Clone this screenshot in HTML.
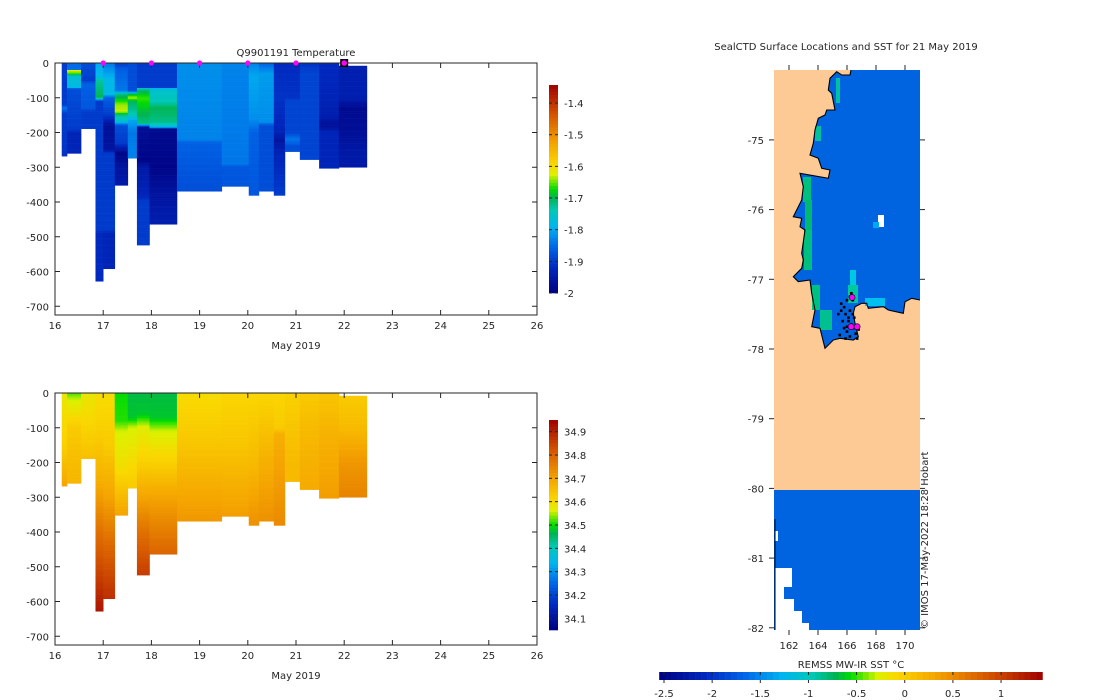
<!DOCTYPE html>
<html><head><meta charset="utf-8"><style>
html,body{margin:0;padding:0;background:#fff}
svg{display:block;font-family:"DejaVu Sans","Liberation Sans",sans-serif}
text{fill:#262626;font-size:10px}
</style></head><body>
<svg id="fig" width="1100" height="700" viewBox="0 0 1100 700"></svg>
<script>
// ---------- DATA ----------
const colStart=[16.14,16.25,16.54,16.84,17.0,17.24,17.51,17.7,17.96,18.53,19.46,20.02,20.23,20.54,20.77,21.08,21.48,21.89];
const colEnd  =[16.25,16.54,16.84,17.0,17.24,17.51,17.7,17.96,18.53,19.46,20.02,20.23,20.54,20.77,21.08,21.48,21.89,22.47];
const colMaxDepth=[268,260,189,628,592,352,274,524,464,369,355,381,369,381,255,278,303,300];
const tempKnots=[
[[0,-1.9],[120,-1.9],[130,-1.84],[145,-1.9],[268,-1.91]],
[[0,-1.85],[18,-1.85],[22,-1.62],[30,-1.66],[38,-1.76],[70,-1.78],[75,-1.88],[190,-1.9],[200,-1.93],[260,-1.93]],
[[0,-1.88],[50,-1.9],[60,-1.86],[130,-1.87],[140,-1.9],[189,-1.9]],
[[0,-1.8],[40,-1.78],[50,-1.73],[100,-1.7],[110,-1.9],[480,-1.9],[490,-1.92],[628,-1.92]],
[[0,-1.84],[50,-1.78],[90,-1.78],[100,-1.86],[150,-1.9],[180,-1.97],[250,-1.96],[260,-1.9],[480,-1.9],[490,-1.93],[592,-1.93]],
[[0,-1.9],[20,-1.86],[80,-1.84],[90,-1.72],[120,-1.64],[140,-1.63],[150,-1.72],[170,-1.77],[180,-1.88],[230,-1.9],[260,-1.99],[300,-1.96],[352,-1.95]],
[[0,-1.88],[80,-1.88],[90,-1.7],[100,-1.63],[110,-1.7],[150,-1.74],[165,-1.8],[200,-1.84],[274,-1.83]],
[[0,-1.9],[70,-1.9],[75,-1.72],[100,-1.66],[175,-1.72],[185,-1.97],[280,-1.99],[300,-1.95],[380,-1.93],[400,-1.9],[524,-1.9]],
[[0,-1.9],[70,-1.9],[75,-1.76],[110,-1.74],[130,-1.7],[170,-1.72],[185,-1.78],[190,-1.98],[300,-1.99],[380,-1.96],[464,-1.94]],
[[0,-1.82],[220,-1.83],[230,-1.86],[300,-1.87],[369,-1.88]],
[[0,-1.83],[290,-1.84],[300,-1.87],[355,-1.87]],
[[0,-1.83],[40,-1.8],[160,-1.82],[200,-1.86],[381,-1.87]],
[[0,-1.86],[30,-1.81],[170,-1.82],[180,-1.88],[369,-1.88]],
[[0,-1.92],[100,-1.91],[200,-1.93],[220,-1.96],[260,-1.93],[381,-1.9]],
[[0,-1.92],[100,-1.91],[110,-1.89],[200,-1.89],[220,-1.84],[240,-1.88],[255,-1.88]],
[[0,-1.91],[30,-1.89],[278,-1.89]],
[[0,-1.92],[100,-1.93],[150,-1.94],[180,-1.97],[200,-1.93],[303,-1.93]],
[[8,-1.94],[100,-1.94],[130,-1.98],[200,-1.97],[260,-1.95],[300,-1.95]]];
const salKnots=[
[[0,34.58],[150,34.62],[268,34.7]],
[[0,34.52],[20,34.56],[100,34.63],[260,34.67]],
[[0,34.58],[60,34.6],[189,34.65]],
[[0,34.6],[100,34.62],[250,34.68],[400,34.78],[520,34.85],[628,34.92]],
[[0,34.6],[150,34.63],[300,34.7],[450,34.8],[592,34.88]],
[[0,34.5],[80,34.51],[110,34.56],[220,34.6],[352,34.7]],
[[0,34.47],[70,34.48],[100,34.56],[274,34.63]],
[[0,34.47],[60,34.48],[100,34.57],[200,34.62],[300,34.7],[400,34.78],[524,34.86]],
[[0,34.47],[70,34.48],[110,34.56],[200,34.62],[300,34.7],[464,34.8]],
[[0,34.6],[150,34.64],[369,34.72]],
[[0,34.61],[150,34.64],[355,34.71]],
[[0,34.61],[200,34.66],[381,34.73]],
[[0,34.61],[200,34.68],[369,34.73]],
[[0,34.61],[100,34.63],[120,34.68],[381,34.74]],
[[0,34.62],[200,34.66],[255,34.66]],
[[0,34.63],[100,34.66],[278,34.69]],
[[0,34.64],[100,34.67],[303,34.71]],
[[8,34.63],[100,34.66],[200,34.72],[300,34.75]]];
const markerDays=[17,18,19,20,21];
const currentDay=22;
const dayTicks=[16,17,18,19,20,21,22,23,24,25,26];
const depthTicks=[0,100,200,300,400,500,600,700];
const tempCbTicks=[-2,-1.9,-1.8,-1.7,-1.6,-1.5,-1.4];
const salCbTicks=[34.1,34.2,34.3,34.4,34.5,34.6,34.7,34.8,34.9];
const sstTicks=[-2.5,-2,-1.5,-1,-0.5,0,0.5,1];
const latTicks=[-75,-76,-77,-78,-79,-80,-81,-82];
const lonTicks=[162,164,166,168,170];
const ctdLon=[165.6,165.8,166.0,166.2,165.9,166.1,166.4,165.7,166.3,166.5,166.0,165.5,166.2,166.6,165.8,166.1,166.4,165.9,166.7,166.3,165.6,166.0,166.5,166.2,165.4,166.8];
const ctdLat=[-77.35,-77.4,-77.3,-77.45,-77.5,-77.55,-77.3,-77.6,-77.65,-77.7,-77.75,-77.8,-77.82,-77.78,-77.7,-77.6,-77.5,-77.85,-77.85,-77.2,-77.45,-77.68,-77.55,-77.25,-77.5,-77.72];
const latestLon=[166.28,166.7,166.35];
const latestLat=[-77.68,-77.68,-77.26];

// ---------- helpers ----------
const svg=document.getElementById('fig');
const NS='http://www.w3.org/2000/svg';
function mk(tag,attrs,parent){const e=document.createElementNS(NS,tag);for(const k in attrs)e.setAttribute(k,attrs[k]);(parent||svg).appendChild(e);return e;}
function txt(x,y,s,anchor,parent,extra){const t=mk('text',Object.assign({x:x,y:y,'text-anchor':anchor||'middle'},extra||{}),parent);t.textContent=s;return t;}
const stops=[[0,[0,0,128]],[0.12,[0,40,190]],[0.22,[0,100,230]],[0.32,[0,180,240]],[0.4,[0,200,180]],[0.46,[0,180,80]],[0.5,[0,220,0]],[0.57,[220,240,0]],[0.62,[250,215,0]],[0.72,[245,165,0]],[0.85,[215,90,0]],[1,[160,0,0]]];
function cmap(t){t=Math.max(0,Math.min(1,t));for(let i=1;i<stops.length;i++){if(t<=stops[i][0]){const a=stops[i-1],b=stops[i],f=(t-a[0])/(b[0]-a[0]);const c=a[1].map((v,j)=>Math.round(v+(b[1][j]-v)*f));return 'rgb('+c.join(',')+')';}}return 'rgb(160,0,0)';}
function interp(kn,z){if(z<=kn[0][0])return kn[0][1];for(let i=1;i<kn.length;i++){if(z<=kn[i][0]){const a=kn[i-1],b=kn[i];return a[1]+(b[1]-a[1])*(z-a[0])/(b[0]-a[0]);}}return kn[kn.length-1][1];}

// ---------- section panels ----------
function panel(name,top,knots,vmin,vmax,cbTop,cbBot,cbTicks,title){
  const L=55,R=537,B=top+252;
  const g=mk('g',{});
  const xS=d=>L+(d-16)*(R-L)/10;
  const yS=z=>top+z*0.3475;
  const cells=mk('g',{},g);
  for(let c=0;c<colStart.length;c++){
    const kn=knots[c];const z0=kn[0][0];
    for(let z=z0;z<colMaxDepth[c];z+=4){
      const z2=Math.min(z+4,colMaxDepth[c]);
      const v=interp(kn,(z+z2)/2);
      const r=mk('rect',{x:xS(colStart[c]),y:yS(z),width:xS(colEnd[c])-xS(colStart[c])+0.3,height:yS(z2)-yS(z)+0.3,fill:cmap((v-vmin)/(vmax-vmin))},cells);
      
      
    }
  }
  mk('rect',{x:L,y:top,width:R-L,height:B-top,fill:'none',stroke:'#262626','stroke-width':1,},g);
  const ax=mk('g',{},g);
  dayTicks.forEach(d=>{const x=xS(d);mk('line',{x1:x,x2:x,y1:B,y2:B-5,stroke:'#262626'},ax);mk('line',{x1:x,x2:x,y1:top,y2:top+5,stroke:'#262626'},ax);txt(x,B+14,String(d),'middle',ax);});
  txt(296,B+34,'May 2019','middle',ax,{'font-size':'11'});
  const ay=mk('g',{},g);
  depthTicks.forEach(z=>{const y=yS(z);mk('line',{x1:L,x2:L+5,y1:y,y2:y,stroke:'#262626'},ay);mk('line',{x1:R,x2:R-5,y1:y,y2:y,stroke:'#262626'},ay);txt(L-6,y+4,z===0?'0':'-'+z,'end',ay);});
  if(title)txt(296,top-7,title,'middle',g,{'font-size':'11'});
  const cb=mk('g',{},g);
  const cbL=549,cbW=9;const vTop=vmax,vBot=vmin;
  const yc=v=>cbBot-(v-vBot)/(vTop-vBot)*(cbBot-cbTop);
  for(let i=0;i<64;i++){const v1=vBot+(vTop-vBot)*i/64,v2=vBot+(vTop-vBot)*(i+1)/64;mk('rect',{x:cbL,y:yc(v2),width:cbW,height:yc(v1)-yc(v2)+0.3,fill:cmap((i+0.5)/64)},cb);}
  cbTicks.forEach(v=>{const y=yc(v);mk('line',{x1:cbL,x2:cbL+3,y1:y,y2:y,stroke:'#262626'},cb);mk('line',{x1:cbL+cbW,x2:cbL+cbW-3,y1:y,y2:y,stroke:'#262626'},cb);txt(cbL+cbW+6,y+4,String(v),'start',cb);});
  return {xS,yS,g};
}
const topP=panel('temperature-panel',63,tempKnots,-2,-1.343,85,293,tempCbTicks,'Q9901191  Temperature');
panel('salinity-panel',393,salKnots,34.05,34.95,420,630,salCbTicks,null);
markerDays.forEach(d=>{const m=mk('circle',{cx:topP.xS(d),cy:63,r:2.6,fill:'#ff00ff'});});
mk('rect',{x:topP.xS(currentDay)-4,y:59,width:8,height:8,fill:'#000',});
mk('circle',{cx:topP.xS(currentDay),cy:63,r:2.8,fill:'#ff00ff',});

// ---------- map ----------
const map=mk('g',{});
const mx=lon=>789+(lon-162)*14.5;
const my=lat=>349-(lat+78)*69.7;
txt(846,50,'SealCTD Surface Locations and SST for 21 May 2019','middle',map,{'font-size':'11'});
mk('rect',{x:774,y:70,width:146,height:420,fill:'#fdca96',},map);
const cz=[[333,30],[330,45],[305,45],[290,35],[270,55],[265,90],[275,100],[285,150],[260,150],[255,165],[235,175],[225,210],[220,250],[210,285],[235,295],[245,325],[270,330],[265,355],[180,340],[190,380],[185,420],[175,440],[160,470],[185,475],[180,500],[195,510],[185,580],[190,600],[185,625],[160,650],[175,665],[210,660],[215,700],[225,750],[215,800],[240,805],[255,865],[280,840],[300,835],[340,840],[355,830],[345,790],[340,760],[345,740],[365,730],[380,730],[385,745],[430,740],[445,750],[490,760],[495,725],[515,715],[540,720],[540,30]];
const cpts=cz.map(p=>(p[0]/3+740).toFixed(1)+','+(p[1]/3+60).toFixed(1)).join(' ');
mk('polygon',{points:cpts,fill:'#0064e0',},map);
[[803,177,8,25,'#00c080'],[805,200,7,30,'#00b870'],[804,230,8,40,'#00c080'],[812,285,8,25,'#00c080'],[820,310,12,20,'#00c090'],[815,126,6,15,'#00c0a0'],[836,78,4,25,'#00c0a0'],[850,270,6,20,'#00c8e0'],[865,298,20,8,'#00c0f0'],[878,215,6,12,'#ffffff'],[873,222,6,6,'#00a8f0'],[848,285,10,18,'#00c8a0']].forEach(c=>{const r=mk('rect',{x:c[0],y:c[1],width:c[2],height:c[3],fill:c[4]},map);});
mk('polyline',{points:cpts.split(' ').slice(0,-1).join(' '),fill:'none',stroke:'#000','stroke-width':1.1,},map);
mk('rect',{x:774,y:490,width:146,height:140,fill:'#0064e0',},map);
mk('polygon',{points:'775,568 792,568 792,587 784,587 784,599 794,599 794,611 802,611 802,623 809,623 809,630 775,630',fill:'#fff',},map);
mk('rect',{x:775,y:531,width:3,height:10,fill:'#fff'},map);
mk('line',{x1:775,x2:775,y1:519,y2:630,stroke:'#000','stroke-width':1},map);
ctdLon.forEach((lon,i)=>{const d=mk('rect',{x:mx(lon)-1.3,y:my(ctdLat[i])-1.3,width:2.6,height:2.6,fill:'#000'},map);});
latestLon.forEach((lon,i)=>{const d=mk('circle',{cx:mx(lon),cy:my(latestLat[i]),r:3,fill:'#ff00ff',stroke:'#000','stroke-width':0.6},map);});
const my_ax=mk('g',{},map);
latTicks.forEach(l=>{const y=my(l);mk('line',{x1:774,x2:769,y1:y,y2:y,stroke:'#262626'},my_ax);mk('line',{x1:920,x2:925,y1:y,y2:y,stroke:'#262626'},my_ax);txt(764,y+4,String(l),'end',my_ax);});
const mx_ax=mk('g',{},map);
lonTicks.forEach(l=>{const x=mx(l);mk('line',{x1:x,x2:x,y1:630,y2:635,stroke:'#262626'},mx_ax);mk('line',{x1:x,x2:x,y1:70,y2:65,stroke:'#262626'},mx_ax);txt(x,649,String(l),'middle',mx_ax);});
txt(0,0,'© IMOS 17-May-2022 18:28 Hobart','start',map,{transform:'translate(928,629) rotate(-90)','font-size':'9.5',});
const scb=mk('g',{});
const sx=v=>664+(v+2.5)*96.3;const sMax=1.43,sMin=-2.55;
for(let i=0;i<64;i++){const v1=sMin+(sMax-sMin)*i/64,v2=sMin+(sMax-sMin)*(i+1)/64;mk('rect',{x:sx(v1),y:672,width:sx(v2)-sx(v1)+0.3,height:8,fill:cmap((i+0.5)/64)},scb);}
sstTicks.forEach(v=>{const x=sx(v);mk('line',{x1:x,x2:x,y1:680,y2:683,stroke:'#262626'},scb);mk('line',{x1:x,x2:x,y1:672,y2:675,stroke:'#262626'},scb);txt(x,697,String(v),'middle',scb);});
txt(851,668,'REMSS MW-IR SST °C','middle',scb,{'font-size':'11'});
</script>
</body></html>
